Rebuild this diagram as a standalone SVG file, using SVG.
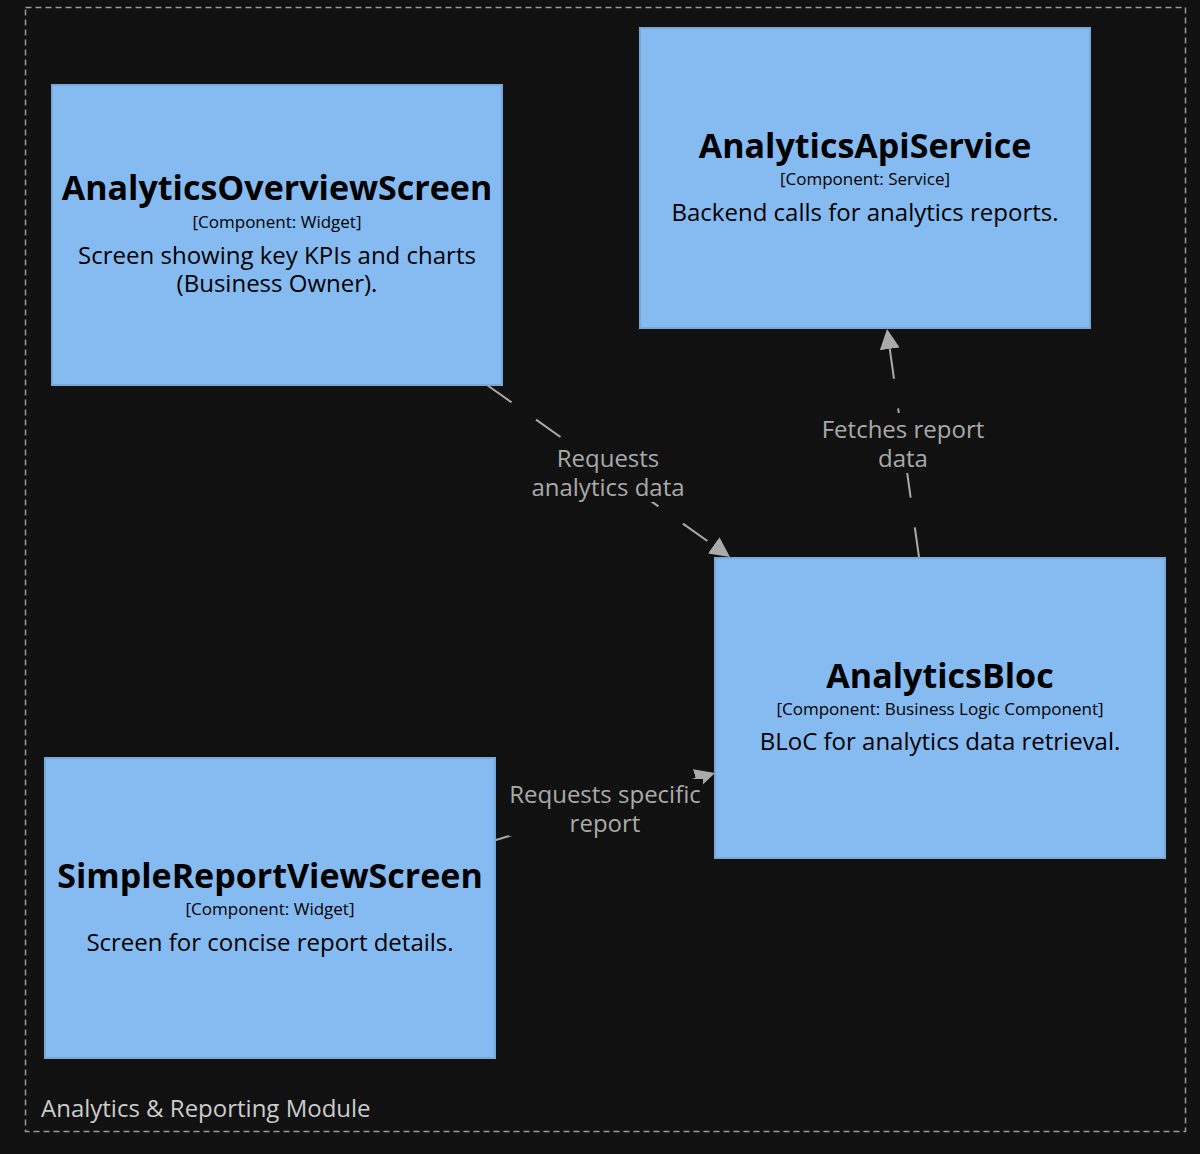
<svg xmlns="http://www.w3.org/2000/svg" width="1200" height="1154" viewBox="0 0 1200 1154">
<style>
.node rect{fill:#85BBF0;stroke:#78A8D8;stroke-width:2}
.t{font-family:"Open Sans","Liberation Sans",sans-serif;text-anchor:middle;fill:#000}
.title{font-size:34px;font-weight:bold}
.meta{font-size:17px}
.desc{font-size:24px}
.edge{stroke:#aaaaaa;stroke-width:2;fill:none;stroke-dasharray:30 30}
.lbl{font-family:"Open Sans","Liberation Sans",sans-serif;font-size:24px;text-anchor:middle;fill:#aaaaaa}
.lblbg{fill:#111111}
</style>
<defs>
<marker id="arr" viewBox="0 0 20 20" refX="20" refY="10" markerWidth="20" markerHeight="20" markerUnits="userSpaceOnUse" orient="auto">
<path d="M0,0 L20,10 L0,20 z" fill="#aaaaaa"/>
</marker>
</defs>
<rect width="1200" height="1154" fill="#111111"/>
<g id="boundary">
<rect x="25.5" y="7.5" width="1160" height="1124" fill="none" stroke="#999999" stroke-width="1.5" stroke-dasharray="6 4"/>
<text x="41" y="1117" font-family="'Open Sans','Liberation Sans',sans-serif" font-size="24" fill="#cccccc">Analytics &amp; Reporting Module</text>
</g>
<g id="connectors">
<path class="edge" d="M487,385 L730,557" marker-end="url(#arr)"/>
<path class="edge" d="M919,557 L887,329" marker-end="url(#arr)"/>
<path class="edge" d="M496,840 L715,773" marker-end="url(#arr)"/>
<rect class="lblbg" x="531" y="444" width="156" height="58"/>
<text class="lbl" x="608" y="467">Requests</text>
<text class="lbl" x="608" y="496">analytics data</text>
<rect class="lblbg" x="820" y="413" width="166" height="60"/>
<text class="lbl" x="903" y="438">Fetches report</text>
<text class="lbl" x="903" y="467">data</text>
<rect class="lblbg" x="509" y="779" width="194" height="57"/>
<text class="lbl" x="605" y="803">Requests specific</text>
<text class="lbl" x="605" y="832">report</text>
</g>
<g id="AnalyticsOverviewScreen" class="node">
<rect x="52" y="85" width="450" height="300"/>
<text class="t title" x="277" y="200">AnalyticsOverviewScreen</text>
<text class="t meta" x="277" y="228">[Component: Widget]</text>
<text class="t desc" x="277" y="264">Screen showing key KPIs and charts</text>
<text class="t desc" x="277" y="292">(Business Owner).</text>
</g>
<g id="AnalyticsApiService" class="node">
<rect x="640" y="28" width="450" height="300"/>
<text class="t title" x="865" y="158">AnalyticsApiService</text>
<text class="t meta" x="865" y="185">[Component: Service]</text>
<text class="t desc" x="865" y="221">Backend calls for analytics reports.</text>
</g>
<g id="AnalyticsBloc" class="node">
<rect x="715" y="558" width="450" height="300"/>
<text class="t title" x="940" y="688">AnalyticsBloc</text>
<text class="t meta" x="940" y="715">[Component: Business Logic Component]</text>
<text class="t desc" x="940" y="750">BLoC for analytics data retrieval.</text>
</g>
<g id="SimpleReportViewScreen" class="node">
<rect x="45" y="758" width="450" height="300"/>
<text class="t title" x="270" y="888">SimpleReportViewScreen</text>
<text class="t meta" x="270" y="915">[Component: Widget]</text>
<text class="t desc" x="270" y="951">Screen for concise report details.</text>
</g>
</svg>
